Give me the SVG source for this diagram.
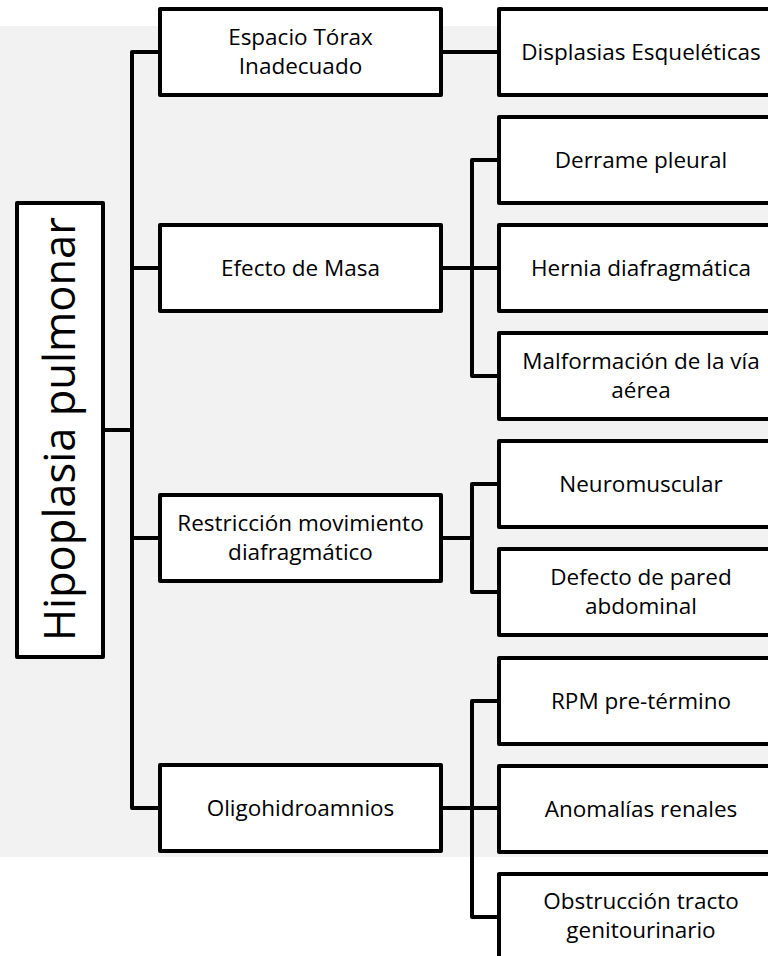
<svg xmlns="http://www.w3.org/2000/svg" width="768" height="956" viewBox="0 0 768 956">
<style>
.box{fill:#fff;stroke:#000;stroke-width:4;stroke-linejoin:round}
.t{font-family:"Open Sans","Liberation Sans",sans-serif;font-size:22.5px;fill:#000;text-anchor:middle}
.root{font-family:"Open Sans","Liberation Sans",sans-serif;font-size:43.5px;fill:#000;text-anchor:middle}
.c{fill:none;stroke:#000;stroke-width:4;stroke-linejoin:round;stroke-linecap:round}
</style>
<rect x="0" y="26" width="768" height="831" fill="#f2f2f2"/>
<g id="connectors">
<path class="c" d="M105 430H132M160 52H132V808H160M132 268H160M132 538H160"/>
<path class="c" d="M441 52H499"/>
<path class="c" d="M441 268H499M499 160H472V376H499"/>
<path class="c" d="M441 538H472M499 484H472V592H499"/>
<path class="c" d="M441 808H499M499 701H472V917H499"/>
</g>
<g id="root">
<rect class="box" x="17" y="203" width="86" height="454"/>
<text class="root" transform="translate(75,429) rotate(-90)">Hipoplasia pulmonar</text>
</g>
<g id="n1"><rect class="box" x="160" y="9" width="281" height="86"/><text class="t" x="300.5" y="45">Espacio Tórax</text><text class="t" x="300.5" y="74">Inadecuado</text></g>
<g id="n2"><rect class="box" x="160" y="225" width="281" height="86"/><text class="t" x="300.5" y="276">Efecto de Masa</text></g>
<g id="n3"><rect class="box" x="160" y="495" width="281" height="86"/><text class="t" x="300.5" y="531">Restricción movimiento</text><text class="t" x="300.5" y="560">diafragmático</text></g>
<g id="n4"><rect class="box" x="160" y="765" width="281" height="86"/><text class="t" x="300.5" y="816">Oligohidroamnios</text></g>
<g id="a"><rect class="box" x="499" y="9" width="284" height="86"/><text class="t" x="641" y="60">Displasias Esqueléticas</text></g>
<g id="b"><rect class="box" x="499" y="117" width="284" height="86"/><text class="t" x="641" y="168">Derrame pleural</text></g>
<g id="c"><rect class="box" x="499" y="225" width="284" height="86"/><text class="t" x="641" y="276">Hernia diafragmática</text></g>
<g id="d"><rect class="box" x="499" y="333" width="284" height="86"/><text class="t" x="641" y="369">Malformación de la vía</text><text class="t" x="641" y="398">aérea</text></g>
<g id="e"><rect class="box" x="499" y="441" width="284" height="86"/><text class="t" x="641" y="492">Neuromuscular</text></g>
<g id="f"><rect class="box" x="499" y="549" width="284" height="86"/><text class="t" x="641" y="585">Defecto de pared</text><text class="t" x="641" y="614">abdominal</text></g>
<g id="g"><rect class="box" x="499" y="658" width="284" height="86"/><text class="t" x="641" y="709">RPM pre-término</text></g>
<g id="h"><rect class="box" x="499" y="766" width="284" height="86"/><text class="t" x="641" y="817">Anomalías renales</text></g>
<g id="i"><rect class="box" x="499" y="874" width="284" height="86"/><text class="t" x="641" y="909">Obstrucción tracto</text><text class="t" x="641" y="938">genitourinario</text></g>
</svg>
